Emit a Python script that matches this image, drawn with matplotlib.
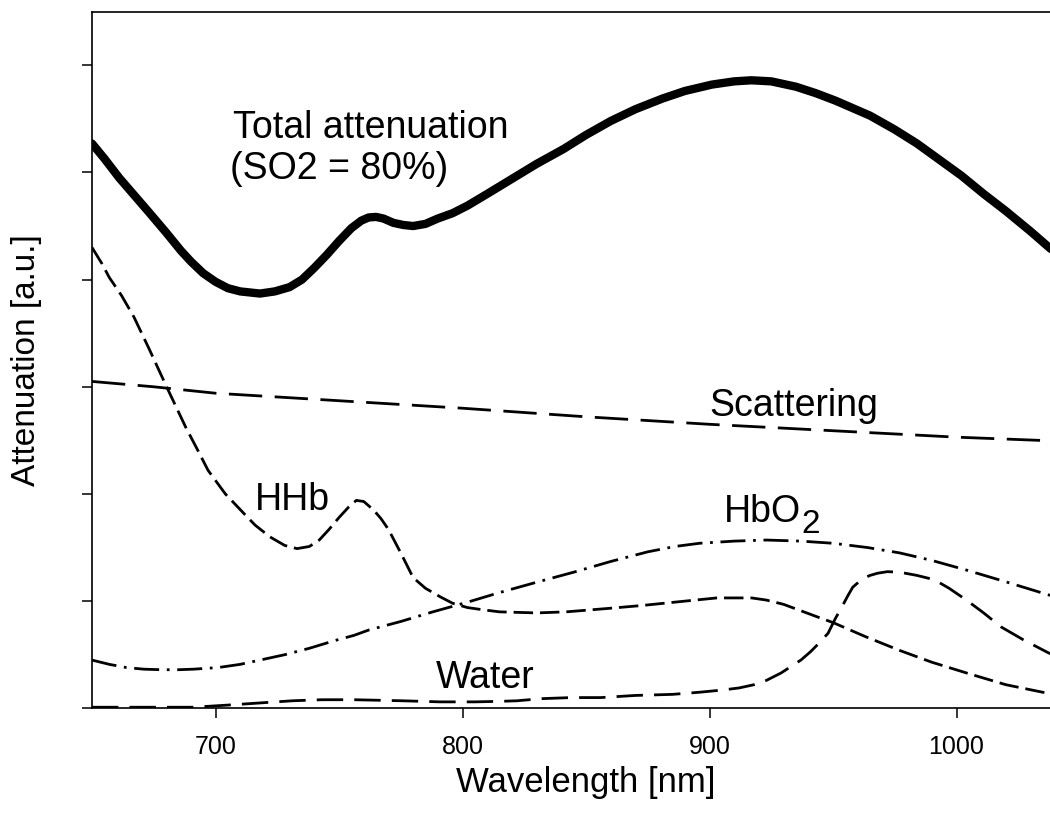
import matplotlib
matplotlib.use("Agg")
from matplotlib import pyplot as plt

# -----------------------------
# Curves (wavelength in nm, attenuation in a.u.)
# -----------------------------
total_wl = [650, 655, 661, 667, 673, 680, 686, 690, 695, 700, 705, 710, 718, 724, 730,
            735, 740, 745, 750, 755, 759, 762, 765, 768, 772, 776, 780, 785, 790, 796,
            802, 810, 820, 830, 841, 850, 860, 870, 881, 890, 901, 910, 917, 925, 935,
            943, 951, 958, 965, 975, 984, 993, 1002, 1011, 1020, 1030, 1038, 1045]
total_att = [5.27, 5.13, 4.95, 4.79, 4.63, 4.44, 4.27, 4.17, 4.06, 3.98, 3.92, 3.89, 3.87, 3.89, 3.93,
             4.00, 4.11, 4.23, 4.36, 4.48, 4.55, 4.58, 4.585, 4.57, 4.53, 4.51, 4.50, 4.52, 4.57, 4.62,
             4.69, 4.80, 4.94, 5.08, 5.22, 5.35, 5.48, 5.59, 5.69, 5.76, 5.82, 5.85, 5.86, 5.85, 5.80,
             5.74, 5.67, 5.60, 5.53, 5.40, 5.27, 5.12, 4.97, 4.80, 4.64, 4.45, 4.29, 4.16]

scat_wl = [650, 675, 700, 750, 800, 850, 900, 950, 1000, 1045]
scat_att = [3.05, 3.00, 2.94, 2.87, 2.80, 2.72, 2.65, 2.59, 2.53, 2.49]

hhb_wl = [650, 654, 657, 662, 667, 673, 680, 688, 693, 697, 704, 711, 716, 722, 728,
          733, 738, 742, 746, 750, 754, 757, 760, 764, 767, 770, 775, 780, 785, 791,
          796, 802, 808, 815, 830, 842, 858, 873, 890, 903, 910, 917, 923, 930, 937,
          944, 950, 963, 977, 990, 1004, 1020, 1037, 1045]
hhb_att = [4.30, 4.15, 4.02, 3.85, 3.65, 3.36, 3.01, 2.62, 2.40, 2.22, 2.00, 1.83, 1.71, 1.60, 1.52,
           1.49, 1.51, 1.57, 1.67, 1.78, 1.88, 1.94, 1.93, 1.85, 1.77, 1.67, 1.45, 1.22, 1.12, 1.04,
           0.98, 0.94, 0.92, 0.90, 0.89, 0.90, 0.93, 0.96, 1.00, 1.03, 1.03, 1.03, 1.01, 0.97, 0.91,
           0.85, 0.80, 0.67, 0.54, 0.43, 0.33, 0.22, 0.14, 0.12]

hbo2_wl = [650, 657, 664, 671, 678, 685, 691, 701, 710, 718, 728, 738, 748, 756, 762,
           775, 788, 802, 815, 829, 845, 860, 875, 886, 896, 910, 923, 937, 950, 964,
           977, 990, 1004, 1020, 1037, 1045]
hbo2_att = [0.45, 0.41, 0.38, 0.365, 0.36, 0.36, 0.365, 0.38, 0.41, 0.45, 0.50, 0.56, 0.63, 0.68, 0.73,
            0.81, 0.90, 0.99, 1.08, 1.17, 1.27, 1.37, 1.46, 1.51, 1.54, 1.56, 1.57, 1.56, 1.54, 1.50,
            1.45, 1.38, 1.29, 1.18, 1.06, 1.01]

water_wl = [650, 670, 691, 698, 705, 718, 731, 743, 756, 776, 791, 805, 815, 822, 832,
            844, 856, 870, 885, 896, 905, 912, 918, 923, 929, 933, 937, 941, 944, 948,
            951, 953, 956, 958, 962, 965, 968, 972, 977, 984, 991, 997, 1004, 1011, 1018,
            1027, 1037, 1045]
water_att = [0.01, 0.01, 0.01, 0.02, 0.03, 0.05, 0.07, 0.08, 0.08, 0.07, 0.06, 0.06, 0.065, 0.07, 0.09,
             0.10, 0.10, 0.12, 0.13, 0.15, 0.17, 0.19, 0.22, 0.26, 0.33, 0.39, 0.45, 0.53, 0.60, 0.70,
             0.84, 0.92, 1.05, 1.13, 1.21, 1.24, 1.26, 1.275, 1.27, 1.24, 1.20, 1.12, 1.01, 0.89, 0.76,
             0.64, 0.52, 0.44]

x_ticks = [700, 800, 900, 1000]
y_ticks = [0, 1, 2, 3, 4, 5, 6]

plt.rcParams["font.family"] = ["Liberation Sans", "DejaVu Sans"]
plt.rcParams["lines.scale_dashes"] = False

LONG_DASH = (0, (24, 9))
WATER_DASH = (0, (19, 8))
SHORT_DASH = (0, (14, 5))
DASH_DOT = (0, (18, 5.5, 2, 5.5))


def main():
    fig = plt.figure(figsize=(10.5, 8.23), dpi=100)
    # axes runs past the right edge of the picture, like the cropped original
    ax = fig.add_axes([92 / 1050, 1 - 708.3 / 823, (1080 - 92) / 1050, (708.3 - 11.7) / 823])

    ax.plot(total_wl, total_att, color="black", lw=6, solid_capstyle="round",
            solid_joinstyle="round")
    ax.plot(scat_wl, scat_att, color="black", lw=2, linestyle=LONG_DASH)
    ax.plot(hhb_wl, hhb_att, color="black", lw=2, linestyle=SHORT_DASH)
    ax.plot(hbo2_wl, hbo2_att, color="black", lw=2, linestyle=DASH_DOT)
    ax.plot(water_wl, water_att, color="black", lw=2, linestyle=WATER_DASH)

    ax.set_xlim(650, 1050)
    ax.set_ylim(0, 6.5)
    ax.set_xticks(x_ticks)
    ax.set_yticks(y_ticks)
    ax.set_yticklabels([])
    ax.tick_params(direction="out", length=7, width=1.1, labelsize=18, pad=12)
    for side in ["left", "bottom", "top", "right"]:
        ax.spines[side].set_linewidth(1.2)

    ax.set_xlabel("Wavelength [nm]", fontsize=25, labelpad=5)
    ax.set_ylabel("Attenuation [a.u.]", fontsize=24)
    ax.yaxis.set_label_coords(-0.051, 0.5)

    fs = 27
    ax.text(707, 5.32, "Total attenuation", fontsize=fs, ha="left", va="baseline")
    ax.text(706, 4.94, "(SO2 = 80%)", fontsize=fs, ha="left", va="baseline")
    ax.text(900, 2.73, "Scattering", fontsize=fs, ha="left", va="baseline")
    ax.text(716, 1.85, "HHb", fontsize=fs, ha="left", va="baseline")
    ax.text(906, 1.74, "HbO", fontsize=fs, ha="left", va="baseline")
    ax.text(937, 1.64, "2", fontsize=24, ha="left", va="baseline")
    ax.text(789, 0.19, "Water", fontsize=fs, ha="left", va="baseline")

    fig.savefig("out.png", dpi=100)


if __name__ == "__main__":
    main()
